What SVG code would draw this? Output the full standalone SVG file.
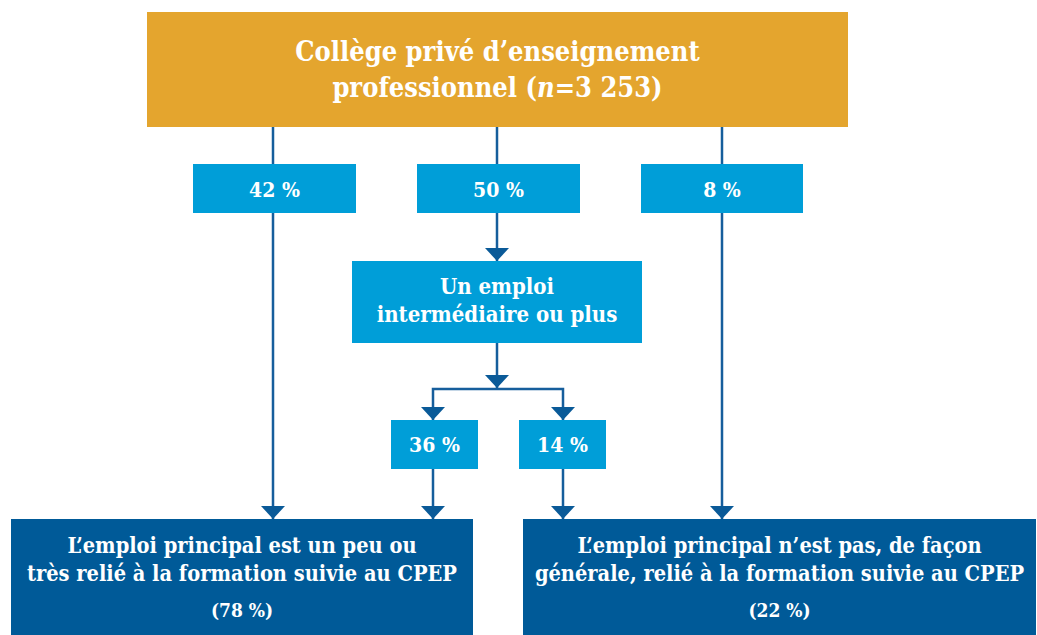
<svg xmlns="http://www.w3.org/2000/svg" width="1037" height="635" viewBox="0 0 1037 635">
  <defs>
    <style>
      .txt { font-family: "DejaVu Serif Condensed", "DejaVu Serif", serif; font-stretch: condensed; font-weight: bold; fill: #ffffff; text-anchor: middle; }
      .head { font-size: 27px; }
      .pct { font-size: 21px; }
      .mid { font-size: 22px; }
      .res { font-size: 21.6px; }
      .small { font-size: 19px; }
      .gold { fill: #E4A52E; }
      .light { fill: #009ED8; }
      .dark { fill: #005A98; }
      .link { stroke: #165E9C; stroke-width: 2.5; fill: none; }
    </style>
    <!-- arrowhead drawn along +x so orient="auto" turns it with the line -->
    <marker id="arrow" viewBox="0 0 13 24" refX="13" refY="12" markerWidth="13" markerHeight="24" markerUnits="userSpaceOnUse" orient="auto-start-reverse">
      <path d="M0,0 L13,12 L0,24 Z" fill="#0A5A98"/>
    </marker>
  </defs>

  <rect width="1037" height="635" fill="#ffffff"/>

  <!-- connectors -->
  <g id="connectors">
    <line class="link" x1="273" y1="127" x2="273" y2="164"/>
    <line class="link" x1="497" y1="127" x2="497" y2="164"/>
    <line class="link" x1="722" y1="127" x2="722" y2="164"/>
    <line class="link" x1="273" y1="213" x2="273" y2="519" marker-end="url(#arrow)"/>
    <line class="link" x1="722" y1="213" x2="722" y2="519" marker-end="url(#arrow)"/>
    <line class="link" x1="497" y1="213" x2="497" y2="261" marker-end="url(#arrow)"/>
    <line class="link" x1="497" y1="343" x2="497" y2="388" marker-end="url(#arrow)"/>
    <polyline class="link" points="433,420 433,389 563,389 563,420" marker-start="url(#arrow)" marker-end="url(#arrow)"/>
    <line class="link" x1="433" y1="469" x2="433" y2="519" marker-end="url(#arrow)"/>
    <line class="link" x1="563" y1="469" x2="563" y2="519" marker-end="url(#arrow)"/>
  </g>

  <g id="node-college">
    <rect class="gold" x="147" y="12" width="701" height="115"/>
    <text class="txt head" x="497.5" y="61">Collège privé d’enseignement</text>
    <text class="txt head" x="497.5" y="97">professionnel (<tspan font-style="italic">n</tspan>=3 253)</text>
  </g>

  <g id="node-p42">
    <rect class="light" x="193" y="164" width="163" height="49"/>
    <text class="txt pct" x="274.5" y="197">42 %</text>
  </g>
  <g id="node-p50">
    <rect class="light" x="417" y="164" width="163" height="49"/>
    <text class="txt pct" x="498.5" y="197">50 %</text>
  </g>
  <g id="node-p8">
    <rect class="light" x="641" y="164" width="162" height="49"/>
    <text class="txt pct" x="722" y="197">8 %</text>
  </g>

  <g id="node-emploi">
    <rect class="light" x="352" y="261" width="290" height="82"/>
    <text class="txt mid" x="497" y="294">Un emploi</text>
    <text class="txt mid" x="497" y="322">intermédiaire ou plus</text>
  </g>

  <g id="node-p36">
    <rect class="light" x="391" y="420" width="87" height="49"/>
    <text class="txt pct" x="434.5" y="452">36 %</text>
  </g>
  <g id="node-p14">
    <rect class="light" x="519" y="420" width="87" height="49"/>
    <text class="txt pct" x="562.5" y="452">14 %</text>
  </g>

  <g id="node-relie">
    <rect class="dark" x="11" y="519" width="462" height="116"/>
    <text class="txt res" x="242" y="553">L’emploi principal est un peu ou</text>
    <text class="txt res" x="242" y="581">très relié à la formation suivie au CPEP</text>
    <text class="txt small" x="242" y="617">(78 %)</text>
  </g>

  <g id="node-non-relie">
    <rect class="dark" x="523" y="519" width="513" height="116"/>
    <text class="txt res" x="779.5" y="553">L’emploi principal n’est pas, de façon</text>
    <text class="txt res" x="779.5" y="581">générale, relié à la formation suivie au CPEP</text>
    <text class="txt small" x="779.5" y="617">(22 %)</text>
  </g>
</svg>
